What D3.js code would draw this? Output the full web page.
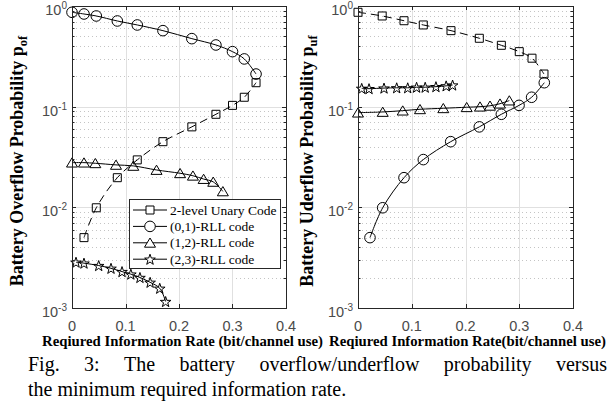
<!DOCTYPE html>
<html><head><meta charset="utf-8">
<script src="https://cdn.jsdelivr.net/npm/d3@7"></script>
<style>body{margin:0;background:#fff;} svg{display:block}</style>
</head><body>
<svg id="chart" width="608" height="409"></svg>
<script>
// ---------- data ----------
const xTicks = [0, 0.1, 0.2, 0.3, 0.4];
const xTickLabels = ["0", "0.1", "0.2", "0.3", "0.4"];
const yTickExps = [0, -1, -2, -3];
const seriesNames = ["2-level Unary Code", "(0,1)-RLL code", "(1,2)-RLL code", "(2,3)-RLL code"];

// Left panel: battery overflow probability
const ofUnaryX = [0.0224, 0.0454, 0.0847, 0.122, 0.170, 0.224, 0.269, 0.300, 0.322, 0.344];
const ofUnaryY = [0.0050, 0.0099, 0.0197, 0.0296, 0.0449, 0.063, 0.084, 0.103, 0.124, 0.173];
const ofRll01X = [0, 0.0224, 0.0454, 0.0847, 0.122, 0.170, 0.224, 0.269, 0.300, 0.322, 0.344];
const ofRll01Y = [0.866, 0.833, 0.796, 0.710, 0.648, 0.569, 0.474, 0.410, 0.352, 0.298, 0.211];
const ofRll12X = [0, 0.0224, 0.0436, 0.0822, 0.1146, 0.158, 0.202, 0.226, 0.246, 0.264, 0.282];
const ofRll12Y = [0.0278, 0.0278, 0.0274, 0.0264, 0.0258, 0.0235, 0.0218, 0.0206, 0.0191, 0.0179, 0.0144];
const ofRll23X = [0.0075, 0.0224, 0.0499, 0.0729, 0.0935, 0.110, 0.127, 0.146, 0.164, 0.175];
const ofRll23Y = [0.00285, 0.00279, 0.00264, 0.00248, 0.00230, 0.00217, 0.00201, 0.00180, 0.00157, 0.00116];

// Right panel: battery underflow probability
const ufUnaryX = [0, 0.045, 0.0856, 0.1215, 0.173, 0.2257, 0.2667, 0.300, 0.3237, 0.346];
const ufUnaryY = [0.866, 0.796, 0.714, 0.648, 0.569, 0.478, 0.407, 0.352, 0.303, 0.211];
const ufRll01X = [0.0223, 0.0459, 0.0856, 0.1215, 0.1725, 0.2257, 0.2667, 0.2996, 0.323, 0.3466];
const ufRll01Y = [0.0050, 0.0099, 0.0197, 0.0298, 0.0449, 0.063, 0.084, 0.103, 0.124, 0.173];
const ufRll12X = [0, 0.046, 0.0832, 0.1153, 0.1587, 0.2022, 0.227, 0.2456, 0.2642, 0.2815];
const ufRll12Y = [0.0872, 0.0886, 0.0913, 0.0942, 0.0964, 0.0987, 0.100, 0.102, 0.107, 0.115];
const ufRll23X = [0.0069, 0.0205, 0.0484, 0.072, 0.0925, 0.109, 0.125, 0.145, 0.164, 0.176];
const ufRll23Y = [0.152, 0.151, 0.153, 0.154, 0.154, 0.156, 0.156, 0.158, 0.161, 0.164];

const captionLines = ["Fig. 3: The battery overflow/underflow probability versus",
                      "the minimum required information rate."];

// ---------- drawing ----------
const svg = d3.select("#chart");
const serif = "'Liberation Serif','Times New Roman',Times,serif";
const sans = "'Liberation Sans',Arial,Helvetica,sans-serif";
const axisColor = "#262626";

function markerPath(type) {
  const p = d3.path();
  if (type === "square") { const s = 4; p.rect(-s, -s, 2 * s, 2 * s); }
  else if (type === "circle") { p.moveTo(5.3, 0); p.arc(0, 0, 5.3, 0, 2 * Math.PI); p.closePath(); }
  else if (type === "triangle") { p.moveTo(0, -4.8); p.lineTo(5.5, 4.4); p.lineTo(-5.5, 4.4); p.closePath(); }
  else if (type === "star") {
    for (let i = 0; i < 10; i++) {
      const r = i % 2 === 0 ? 5.6 : 2.2;
      const a = -Math.PI / 2 + i * Math.PI / 5;
      const x = r * Math.cos(a), y = r * Math.sin(a) + 0.6;
      if (i === 0) p.moveTo(x, y); else p.lineTo(x, y);
    }
    p.closePath();
  }
  return p.toString();
}
const markers = ["square", "circle", "triangle", "star"];
const dashes = ["8,5", null, null, null];

function zip(xs, ys) { return xs.map((x, i) => [x, ys[i]]); }

function drawPanel(cfg) {
  const g = svg.append("g");
  const x = d3.scaleLinear().domain([0, 0.4]).range([cfg.x0, cfg.x1]);
  const y = d3.scaleLog().domain([1e-3, 1]).range([cfg.y1, cfg.y0]);

  // minor grid (dotted)
  const minor = [];
  for (let e = -3; e < 0; e++) for (let m = 2; m <= 9; m++) minor.push(m * Math.pow(10, e));
  g.selectAll(".mg").data(minor).enter().append("line")
    .attr("x1", cfg.x0).attr("x2", cfg.x1)
    .attr("y1", d => Math.round(y(d)) + 0.5).attr("y2", d => Math.round(y(d)) + 0.5)
    .attr("stroke", "#c4c4c4").attr("stroke-width", 1).attr("stroke-dasharray", "1,3");
  // major grid
  g.selectAll(".gx").data(xTicks.slice(1, -1)).enter().append("line")
    .attr("x1", d => Math.round(x(d)) + 0.5).attr("x2", d => Math.round(x(d)) + 0.5)
    .attr("y1", cfg.y0).attr("y2", cfg.y1).attr("stroke", "#e0e0e0").attr("stroke-width", 1);
  g.selectAll(".gy").data([1e-2, 1e-1]).enter().append("line")
    .attr("x1", cfg.x0).attr("x2", cfg.x1)
    .attr("y1", d => Math.round(y(d)) + 0.5).attr("y2", d => Math.round(y(d)) + 0.5)
    .attr("stroke", "#e0e0e0").attr("stroke-width", 1);

  // series
  const line = d3.line().x(d => x(d[0])).y(d => y(d[1])).curve(d3.curveCatmullRom.alpha(0.5));
  cfg.series.forEach((s, i) => {
    const pts = zip(s[0], s[1]);
    g.append("path").attr("d", line(pts)).attr("fill", "none")
      .attr("stroke", "#000").attr("stroke-width", 1)
      .attr("stroke-dasharray", dashes[i]);
    g.selectAll(null).data(pts).enter().append("path")
      .attr("d", markerPath(markers[i]))
      .attr("transform", d => `translate(${x(d[0])},${y(d[1])})`)
      .attr("fill", "none").attr("stroke", "#000").attr("stroke-width", 1);
  });

  // frame
  g.append("rect").attr("x", cfg.x0 + 0.5).attr("y", cfg.y0 + 0.5)
    .attr("width", cfg.x1 - cfg.x0).attr("height", cfg.y1 - cfg.y0)
    .attr("fill", "none").attr("stroke", axisColor).attr("stroke-width", 1);

  // x ticks (inside, bottom & top)
  xTicks.forEach(t => {
    const px = Math.round(x(t)) + 0.5;
    g.append("line").attr("x1", px).attr("x2", px).attr("y1", cfg.y1).attr("y2", cfg.y1 - 4).attr("stroke", axisColor);
    g.append("line").attr("x1", px).attr("x2", px).attr("y1", cfg.y0).attr("y2", cfg.y0 + 4).attr("stroke", axisColor);
  });
  g.selectAll(".xl").data(xTicks).enter().append("text")
    .attr("x", d => x(d)).attr("y", cfg.y1 + 23)
    .attr("text-anchor", "middle").attr("font-family", sans).attr("font-size", 14.5)
    .attr("fill", "#4a4a4a").text((d, i) => xTickLabels[i]);

  // y ticks major + minor, left & right
  yTickExps.forEach(e => {
    const py = Math.round(y(Math.pow(10, e))) + 0.5;
    g.append("line").attr("x1", cfg.x0).attr("x2", cfg.x0 + 4).attr("y1", py).attr("y2", py).attr("stroke", axisColor);
    g.append("line").attr("x1", cfg.x1).attr("x2", cfg.x1 - 4).attr("y1", py).attr("y2", py).attr("stroke", axisColor);
  });
  minor.forEach(v => {
    const py = Math.round(y(v)) + 0.5;
    g.append("line").attr("x1", cfg.x0).attr("x2", cfg.x0 + 2.5).attr("y1", py).attr("y2", py).attr("stroke", axisColor);
    g.append("line").attr("x1", cfg.x1).attr("x2", cfg.x1 - 2.5).attr("y1", py).attr("y2", py).attr("stroke", axisColor);
  });
  yTickExps.forEach(e => {
    const t = g.append("text").attr("x", cfg.x0 - 5).attr("y", y(Math.pow(10, e)) + 9)
      .attr("text-anchor", "end").attr("font-family", sans).attr("font-size", 14.5).attr("fill", "#4a4a4a");
    t.append("tspan").text("10");
    t.append("tspan").attr("dy", -6).attr("font-size", 10).text(String(e));
  });

  // y label
  const yl = g.append("text")
    .attr("transform", `translate(${cfg.ylx},${(cfg.y0 + cfg.y1) / 2 + 4}) rotate(-90)`)
    .attr("text-anchor", "middle").attr("font-family", serif).attr("font-weight", "bold")
    .attr("font-size", 18).attr("fill", "#000");
  yl.append("tspan").text(cfg.ylabel);
  yl.append("tspan").attr("dy", 4).attr("font-size", 12.5).text(cfg.ysub);

  // x label
  g.append("text").attr("x", cfg.xlc).attr("y", 346).attr("text-anchor", "middle")
    .attr("font-family", serif).attr("font-weight", "bold").attr("font-size", 14.5)
    .attr("textLength", cfg.xlw).attr("lengthAdjust", "spacingAndGlyphs")
    .attr("fill", "#000").text(cfg.xlabel);

  return { x, y, g };
}

drawPanel({
  x0: 72, x1: 286, y0: 6, y1: 308,
  series: [[ofUnaryX, ofUnaryY], [ofRll01X, ofRll01Y], [ofRll12X, ofRll12Y], [ofRll23X, ofRll23Y]],
  ylabel: "Battery Overflow Probability p", ysub: "of", ylx: 23,
  xlabel: "Reqiured Information Rate (bit/channel use)", xlc: 182.5, xlw: 281
});
drawPanel({
  x0: 358, x1: 573, y0: 6, y1: 308,
  series: [[ufUnaryX, ufUnaryY], [ufRll01X, ufRll01Y], [ufRll12X, ufRll12Y], [ufRll23X, ufRll23Y]],
  ylabel: "Battery Uderflow Probability p", ysub: "uf", ylx: 313,
  xlabel: "Reqiured Information Rate(bit/channel use)", xlc: 467.5, xlw: 277
});

// legend (left panel)
const lg = svg.append("g");
lg.append("rect").attr("x", 129.5).attr("y", 199.5).attr("width", 151).attr("height", 69)
  .attr("fill", "#fff").attr("stroke", axisColor).attr("stroke-width", 1);
seriesNames.forEach((name, i) => {
  const cy = 210 + i * 16.4;
  lg.append("line").attr("x1", 133).attr("x2", 167).attr("y1", cy).attr("y2", cy)
    .attr("stroke", "#000").attr("stroke-width", 1);
  lg.append("path").attr("d", markerPath(markers[i])).attr("transform", `translate(150,${cy})`)
    .attr("fill", "#fff").attr("stroke", "#000").attr("stroke-width", 1);
  lg.append("text").attr("x", 170).attr("y", cy + 4.6).attr("font-family", serif)
    .attr("font-size", 13.5).attr("fill", "#000").text(name);
});

// caption: line 1 justified (words spread between 28 and 607), line 2 left aligned
const capSize = 20;
const capG = svg.append("g");
const words = captionLines[0].split(" ");
const wordEls = words.map(w => capG.append("text").attr("y", 371).attr("font-family", serif)
  .attr("font-size", capSize).attr("fill", "#000").text(w));
function layoutCaption() {
  const widths = wordEls.map(el => el.node().getComputedTextLength());
  const total = d3.sum(widths);
  const gap = (579 - total) / (words.length - 1);
  let cx = 28;
  wordEls.forEach((el, i) => { el.attr("x", cx); cx += widths[i] + gap; });
}
layoutCaption();
if (document.fonts && document.fonts.ready) document.fonts.ready.then(layoutCaption);
svg.append("text").attr("x", 28).attr("y", 396).attr("font-family", serif)
  .attr("font-size", capSize).attr("fill", "#000").text(captionLines[1]);
</script>
</body></html>
